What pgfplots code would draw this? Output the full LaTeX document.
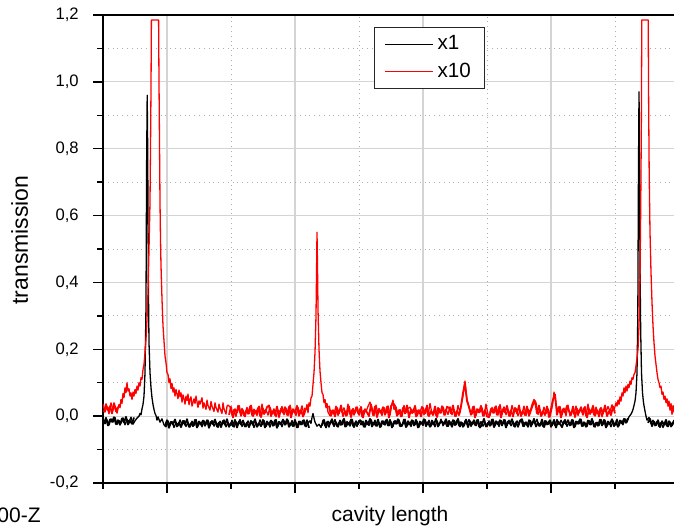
\documentclass[border=0pt]{standalone}
\usepackage{fontspec}
\setmainfont{Liberation Sans}
\usepackage{pgfplots}
\pgfplotsset{compat=1.18}
\definecolor{majgrid}{RGB}{212,212,212}
\definecolor{mingrid}{RGB}{175,175,175}

\begin{document}
\begin{tikzpicture}
\begin{axis}[
    scale only axis,
    width=288pt, height=234pt,
    xmin=103, xmax=679, ymin=-0.2, ymax=1.2,
    xtick={167,295,423,551,679},
    minor xtick={103,231,359,487,615},
    xticklabels={},
    ytick={-0.2,0,0.2,0.4,0.6,0.8,1.0,1.2},
    minor ytick={-0.1,0.1,0.3,0.5,0.7,0.9,1.1},
    xtick pos=bottom, ytick pos=left,
    tick align=outside,
    major tick length=5pt, minor tick length=2.8pt,
    every tick/.style={black, line width=0.7pt},
    axis line style={line width=0.8pt},
    grid=both,
    major grid style={majgrid, line width=0.6pt},
    minor grid style={mingrid, dotted, line width=0.4pt},
    yticklabel style={font=\fontsize{8.3}{10}\selectfont, inner sep=0pt, anchor=east, xshift=-7pt,
        /pgf/number format/.cd, fixed, fixed zerofill, precision=1, use comma, assume math mode=true},
    legend style={at={(rel axis cs:0.4705,0.9744)}, anchor=north west,
        draw=black!85, line width=0.6pt, fill=white,
        font=\fontsize{10.3}{12.4}\selectfont,
        inner xsep=5pt, inner ysep=2pt, row sep=1pt},
    legend cell align=left,
    legend image code/.code={\draw[#1, line width=0.5pt] (0pt,0pt) -- (24pt,0pt);},
    noise/.style={line width=0.9pt, line join=round, forget plot},
]
% x1, main trace
\addplot[black, line width=0.65pt, line join=round] coordinates {
(103,-0.006)(105,-0.023)(107,-0.011)(109,-0.027)(111,-0.008)(113,-0.018)(115,-0.004)(117,-0.025)
(119,-0.013)(121,-0.021)(123,-0.005)(125,-0.026)(127,-0.010)(129,-0.017)(131,-0.003)(133,-0.024)
(135,-0.014)(137,-0.006)(139,0.000)(140,0.008)(141,0.004)(142,0.022)(143,0.035)(144,0.060)
(145,0.130)(146,0.330)(146.6,0.750)(147.2,0.960)(147.7,0.800)(148.3,0.420)(149,0.220)(150,0.130)
(151,0.085)(152,0.055)(153,0.035)(154,0.020)(155,0.008)(156,0.002)(157,-0.012)(158,-0.002)
(160,-0.018)(162,-0.008)(164,-0.026)
(166,-0.032)(168,-0.014)(170,-0.027)(172,-0.016)(174,-0.034)(176,-0.019)(178,-0.029)(180,-0.011)
(182,-0.026)(184,-0.013)(186,-0.031)(188,-0.020)(190,-0.033)(192,-0.015)(194,-0.028)(196,-0.010)
(198,-0.030)(200,-0.018)(202,-0.032)(204,-0.014)(206,-0.024)(208,-0.012)(210,-0.029)(212,-0.013)
(214,-0.030)(216,-0.018)(218,-0.034)(220,-0.015)(222,-0.025)(224,-0.011)(226,-0.032)(228,-0.020)
(230,-0.028)(232,-0.012)(234,-0.033)(236,-0.017)(238,-0.024)(240,-0.010)(242,-0.031)(244,-0.021)
(246,-0.032)(248,-0.014)(250,-0.027)(252,-0.016)(254,-0.034)(256,-0.019)(258,-0.029)(260,-0.011)
(262,-0.026)(264,-0.013)(266,-0.031)(268,-0.020)(270,-0.033)(272,-0.015)(274,-0.028)(276,-0.010)
(278,-0.030)(280,-0.018)(282,-0.032)(284,-0.014)(286,-0.024)(288,-0.012)(290,-0.029)(292,-0.013)
(294,-0.030)(296,-0.018)(298,-0.034)(300,-0.015)(302,-0.025)(304,-0.011)(306,-0.032)(308,-0.020)
(310,-0.014)(311,-0.022)(312,-0.004)(313,0.008)(314,-0.006)(315,-0.018)(317,-0.030)(319,-0.024)
(321,-0.034)
(323,-0.012)(325,-0.029)(327,-0.017)(329,-0.033)(331,-0.014)(333,-0.024)(335,-0.010)(337,-0.031)
(339,-0.019)(341,-0.027)(343,-0.011)(345,-0.032)(347,-0.016)(349,-0.023)(351,-0.009)(353,-0.030)
(355,-0.020)(357,-0.031)(359,-0.013)(361,-0.026)(363,-0.015)(365,-0.033)(367,-0.018)(369,-0.028)
(371,-0.010)(373,-0.025)(375,-0.012)(377,-0.030)(379,-0.019)(381,-0.032)(383,-0.014)(385,-0.027)
(387,-0.009)(389,-0.029)(391,-0.017)(393,-0.031)(395,-0.013)(397,-0.023)(399,-0.011)(401,-0.028)
(403,-0.023)(405,-0.009)(407,-0.030)(409,-0.020)(411,-0.031)(413,-0.013)(415,-0.026)(417,-0.015)
(419,-0.033)(421,-0.018)(423,-0.028)(425,-0.010)(427,-0.025)(429,-0.012)(431,-0.030)(433,-0.019)
(435,-0.032)(437,-0.014)(439,-0.027)(441,-0.009)(443,-0.029)(445,-0.017)(447,-0.031)(449,-0.013)
(451,-0.023)(453,-0.011)(455,-0.028)(457,-0.012)(459,-0.029)(461,-0.017)(463,-0.033)(465,-0.014)
(467,-0.024)(469,-0.010)(471,-0.031)(473,-0.019)(475,-0.027)(477,-0.011)(479,-0.032)(481,-0.016)
(483,-0.030)(485,-0.019)(487,-0.032)(489,-0.014)(491,-0.027)(493,-0.009)(495,-0.029)(497,-0.017)
(499,-0.031)(501,-0.013)(503,-0.023)(505,-0.011)(507,-0.028)(509,-0.012)(511,-0.029)(513,-0.017)
(515,-0.033)(517,-0.014)(519,-0.024)(521,-0.010)(523,-0.031)(525,-0.019)(527,-0.027)(529,-0.011)
(531,-0.032)(533,-0.016)(535,-0.023)(537,-0.009)(539,-0.030)(541,-0.020)(543,-0.031)(545,-0.013)
(547,-0.026)(549,-0.015)(551,-0.033)(553,-0.018)(555,-0.028)(557,-0.010)(559,-0.025)(561,-0.012)
(563,-0.024)(565,-0.010)(567,-0.031)(569,-0.019)(571,-0.027)(573,-0.011)(575,-0.032)(577,-0.016)
(579,-0.023)(581,-0.009)(583,-0.030)(585,-0.020)(587,-0.031)(589,-0.013)(591,-0.026)(593,-0.015)
(595,-0.033)(597,-0.018)(599,-0.028)(601,-0.010)(603,-0.025)(605,-0.012)(607,-0.030)(609,-0.019)
(611,-0.032)(613,-0.014)(615,-0.027)(617,-0.009)(619,-0.029)(621,-0.014)(623,-0.026)(625,-0.008)
(627,-0.018)(629,-0.002)(631,0.006)(632,0.012)(633,0.020)(634,0.032)(635,0.045)(636,0.070)
(637,0.130)(637.8,0.300)(638.4,0.700)(639,0.970)(639.5,0.800)(640,0.450)(640.7,0.250)(641.5,0.130)
(642.5,0.070)(643.5,0.040)(645,0.015)(646,0.000)(647,-0.012)(649,-0.004)(651,-0.022)(653,-0.012)
(655,-0.029)(657,-0.016)(659,-0.031)(661,-0.019)(663,-0.034)(665,-0.020)(667,-0.030)(669,-0.014)
(671,-0.032)(673,-0.018)(675,-0.028)(677,-0.015)(679,-0.025)
};
\addlegendentry{x1}
% x1, interleaved baseline samples
\addplot[black, noise] coordinates {
(104,-0.022)(106,-0.005)(108,-0.028)(110,-0.010)(112,-0.017)(114,-0.003)(116,-0.024)(118,-0.012)
(120,-0.026)(122,-0.007)(124,-0.019)(126,-0.002)(128,-0.025)(130,-0.014)(132,-0.023)(134,-0.004)
};
\addplot[black, noise] coordinates {
(165,-0.029)(167,-0.012)(169,-0.035)(171,-0.017)(173,-0.024)(175,-0.010)(177,-0.031)(179,-0.019)
(181,-0.033)(183,-0.014)(185,-0.026)(187,-0.009)(189,-0.032)(191,-0.021)(193,-0.030)(195,-0.011)
(197,-0.034)(199,-0.016)(201,-0.025)(203,-0.013)(205,-0.029)(207,-0.012)(209,-0.035)(211,-0.017)
(213,-0.024)(215,-0.010)(217,-0.031)(219,-0.019)(221,-0.033)(223,-0.014)(225,-0.026)(227,-0.009)
(229,-0.032)(231,-0.021)(233,-0.030)(235,-0.011)(237,-0.034)(239,-0.016)(241,-0.025)(243,-0.013)
(245,-0.031)(247,-0.019)(249,-0.033)(251,-0.014)(253,-0.026)(255,-0.009)(257,-0.032)(259,-0.021)
(261,-0.030)(263,-0.011)(265,-0.034)(267,-0.016)(269,-0.025)(271,-0.013)(273,-0.029)(275,-0.012)
(277,-0.035)(279,-0.017)(281,-0.024)(283,-0.010)(285,-0.026)(287,-0.009)(289,-0.032)(291,-0.021)
(293,-0.030)(295,-0.011)(297,-0.034)(299,-0.016)(301,-0.025)(303,-0.013)(305,-0.029)(307,-0.012)
(309,-0.035)
};
\addplot[black, noise] coordinates {
(322,-0.028)(324,-0.011)(326,-0.034)(328,-0.016)(330,-0.023)(332,-0.009)(334,-0.030)(336,-0.018)
(338,-0.032)(340,-0.013)(342,-0.025)(344,-0.008)(346,-0.031)(348,-0.020)(350,-0.029)(352,-0.010)
(354,-0.033)(356,-0.015)(358,-0.024)(360,-0.012)(362,-0.018)(364,-0.032)(366,-0.013)(368,-0.025)
(370,-0.008)(372,-0.031)(374,-0.020)(376,-0.029)(378,-0.010)(380,-0.033)(382,-0.015)(384,-0.024)
(386,-0.012)(388,-0.028)(390,-0.011)(392,-0.034)(394,-0.016)(396,-0.023)(398,-0.009)(400,-0.030)
(402,-0.029)(404,-0.010)(406,-0.033)(408,-0.015)(410,-0.024)(412,-0.012)(414,-0.028)(416,-0.011)
(418,-0.034)(420,-0.016)(422,-0.023)(424,-0.009)(426,-0.030)(428,-0.018)(430,-0.032)(432,-0.013)
(434,-0.025)(436,-0.008)(438,-0.031)(440,-0.020)(442,-0.016)(444,-0.023)(446,-0.009)(448,-0.030)
(450,-0.018)(452,-0.032)(454,-0.013)(456,-0.025)(458,-0.008)(460,-0.031)(462,-0.020)(464,-0.029)
(466,-0.010)(468,-0.033)(470,-0.015)(472,-0.024)(474,-0.012)(476,-0.028)(478,-0.011)(480,-0.034)
(482,-0.025)(484,-0.008)(486,-0.031)(488,-0.020)(490,-0.029)(492,-0.010)(494,-0.033)(496,-0.015)
(498,-0.024)(500,-0.012)(502,-0.028)(504,-0.011)(506,-0.034)(508,-0.016)(510,-0.023)(512,-0.009)
(514,-0.030)(516,-0.018)(518,-0.032)(520,-0.013)(522,-0.009)(524,-0.030)(526,-0.018)(528,-0.032)
(530,-0.013)(532,-0.025)(534,-0.008)(536,-0.031)(538,-0.020)(540,-0.029)(542,-0.010)(544,-0.033)
(546,-0.015)(548,-0.024)(550,-0.012)(552,-0.028)(554,-0.011)(556,-0.034)(558,-0.016)(560,-0.023)
(562,-0.033)(564,-0.015)(566,-0.024)(568,-0.012)(570,-0.028)(572,-0.011)(574,-0.034)(576,-0.016)
(578,-0.023)(580,-0.009)(582,-0.030)(584,-0.018)(586,-0.032)(588,-0.013)(590,-0.025)(592,-0.008)
(594,-0.031)(596,-0.020)(598,-0.029)(600,-0.010)(602,-0.028)(604,-0.011)(606,-0.034)(608,-0.016)
(610,-0.023)(612,-0.009)(614,-0.030)(616,-0.018)(618,-0.032)(620,-0.013)(622,-0.022)(624,-0.008)
(626,-0.020)(628,-0.006)
};
\addplot[black, noise] coordinates {
(648,-0.020)(650,-0.008)(652,-0.030)(654,-0.016)(656,-0.027)(658,-0.012)(660,-0.033)(662,-0.015)
(664,-0.026)(666,-0.011)(668,-0.031)(670,-0.018)(672,-0.028)(674,-0.013)(676,-0.030)(678,-0.017)
};
% x10, main trace
\addplot[red, line width=0.65pt, line join=round] coordinates {
(103,0.036)(105,0.012)(107,0.028)(109,0.007)(111,0.040)(113,0.018)(115,0.031)(117,0.009)
(119,0.035)(120,0.025)(121,0.050)(122,0.038)(123,0.068)(124,0.055)(125,0.085)(126,0.070)
(127,0.100)(128,0.075)(129,0.082)(130,0.060)(131,0.070)(132,0.050)(133,0.072)(134,0.060)
(135,0.080)(136,0.068)(137,0.090)(138,0.078)(139,0.100)(140,0.090)(141,0.115)(142,0.110)
(143,0.140)(144,0.155)(145,0.190)(146,0.230)(147,0.290)(148,0.370)(149,0.500)(150,0.640)
(150.5,0.800)(151,0.980)(151.4,1.185)(158.6,1.185)(159,1.000)(159.5,0.820)(160,0.640)(160.5,0.530)
(161,0.450)(162,0.350)(163,0.270)(164,0.225)(165,0.180)(166,0.160)(167,0.130)(168,0.125)
(169,0.100)(170,0.112)(171,0.082)(172,0.098)(173,0.072)(174,0.085)(175,0.060)(176,0.080)
(177,0.066)(178,0.052)(179,0.078)(180,0.058)(181,0.070)(182,0.042)(183,0.064)(184,0.052)
(185,0.036)(186,0.060)(187,0.047)(188,0.066)(189,0.034)(190,0.050)(191,0.058)(192,0.030)
(194,0.052)(195,0.038)(196,0.060)(198,0.026)(199,0.046)(200,0.036)(202,0.055)(203,0.024)
(204,0.040)(206,0.020)(207,0.048)(208,0.032)(210,0.018)(211,0.044)(212,0.030)(214,0.014)
(215,0.040)(216,0.026)(218,0.012)(219,0.036)(220,0.024)(222,0.008)(223,0.040)(224,0.022)
(226,0.006)(227,0.030)(228,0.033)
(230,0.028)(232,0.004)(234,0.020)(236,-0.001)(238,0.032)(240,0.010)(242,0.023)(244,0.001)
(246,0.017)(248,0.006)(250,0.030)(252,0.002)(254,0.021)(256,0.012)(258,0.025)(260,0.000)
(262,0.036)(264,0.005)(266,0.019)(268,0.003)(270,0.027)(272,0.008)(274,0.022)(276,-0.002)
(278,0.018)(280,0.013)(282,0.029)(284,0.004)(286,0.024)(288,0.001)(290,0.033)(292,0.007)
(294,0.016)(296,0.002)(298,0.026)(300,0.009)(302,0.031)(304,0.003)(306,0.020)
(307,0.035)(308,0.010)(309,0.040)(310,0.030)(311,0.055)(312,0.060)(313,0.095)(314,0.130)
(315,0.190)(316,0.300)(316.5,0.420)(317,0.550)(317.5,0.450)(318,0.320)(319,0.200)(320,0.135)
(321,0.100)(322,0.070)(323,0.065)(324,0.040)(325,0.050)(326,0.025)(327,0.038)(328,0.012)
(330,0.001)(332,0.017)(334,0.006)(336,0.030)(338,0.002)(340,0.021)(342,0.012)(344,0.025)
(346,0.000)(348,0.036)(350,0.005)(352,0.019)(354,0.003)(356,0.027)(358,0.008)(360,0.022)
(362,-0.002)(364,0.018)(366,0.013)(368,0.029)(370,0.042)(372,0.024)(374,0.001)(376,0.033)
(378,0.007)(380,0.016)(382,0.002)(384,0.026)(386,0.009)(388,0.031)(390,0.003)(392,0.038)
(393,0.048)(394,0.020)(396,0.028)(398,0.004)(400,0.020)(402,-0.001)(404,0.032)(406,0.010)
(408,0.023)(410,0.027)(412,0.008)(414,0.022)(416,-0.002)(418,0.018)(420,0.013)(422,0.029)
(424,0.004)(426,0.024)(428,0.001)(430,0.038)(432,0.007)(434,0.016)(436,0.002)(438,0.026)
(440,0.009)(442,0.031)(444,0.003)(446,0.020)(448,0.005)(450,0.028)(452,0.004)(454,0.020)
(456,-0.001)(458,0.032)(460,0.010)(461,0.030)(462,0.045)(463,0.060)(464,0.090)(465,0.105)
(466,0.075)(467,0.050)(468,0.040)(470,0.017)(472,0.006)(474,0.030)(476,0.002)(478,0.021)
(480,0.012)(482,0.025)(484,0.000)(486,0.036)(488,0.005)(490,0.002)(492,0.026)(494,0.009)
(496,0.031)(498,0.003)(500,0.035)(502,0.005)(504,0.028)(506,0.004)(508,0.020)(510,-0.001)
(512,0.032)(514,0.010)(516,0.023)(518,0.001)(520,0.017)(522,0.006)(524,0.030)(526,0.002)
(528,0.021)(530,0.012)(532,0.035)(534,0.050)(536,0.040)(538,0.005)(540,0.019)(542,0.003)
(544,0.027)(546,0.008)(548,0.022)(550,-0.002)(552,0.025)(553,0.045)(554,0.072)(555,0.060)
(556,0.035)(558,0.013)(560,0.029)(562,0.004)(564,0.024)(566,0.001)(568,0.033)(570,0.001)
(572,0.017)(574,0.006)(576,0.030)(578,0.002)(580,0.021)(582,0.012)(584,0.025)(586,0.000)
(588,0.036)(590,0.005)(592,0.019)(594,0.003)(596,0.027)(598,0.008)(600,0.022)(602,-0.002)
(604,0.018)(606,0.013)(608,0.029)(610,0.014)(612,0.034)(614,0.018)(616,0.040)
(617,0.030)(618,0.048)(619,0.035)(620,0.058)(621,0.045)(622,0.070)(623,0.060)(624,0.085)
(625,0.070)(626,0.090)(627,0.075)(628,0.095)(629,0.085)(630,0.105)(631,0.095)(632,0.115)
(633,0.110)(634,0.125)(635,0.130)(636,0.150)(637,0.175)(638,0.200)(639,0.270)(640,0.420)
(640.7,0.620)(641.3,0.850)(641.8,1.185)(648.2,1.185)(648.6,0.950)(649.2,0.720)(650,0.550)(651,0.430)
(652,0.340)(653,0.270)(654,0.220)(655,0.180)(656,0.155)(657,0.130)(658,0.110)(659,0.100)
(660,0.085)(661,0.090)(662,0.065)(663,0.072)(664,0.050)(665,0.060)(666,0.040)(667,0.052)
(668,0.030)(669,0.045)(670,0.018)(671,0.038)(672,0.005)(673,0.032)(674,0.015)(676,0.035)
(678,0.010)(679,0.030)
};
\addlegendentry{x10}
% x10, interleaved baseline samples
\addplot[red, noise] coordinates {
(104,0.012)(106,0.036)(108,0.018)(110,0.030)(112,0.008)(114,0.039)(116,0.014)(118,0.028)
};
\addplot[red, noise] coordinates {
(229,0.004)(231,0.028)(233,-0.004)(235,0.021)(237,0.011)(239,0.031)(241,0.001)(243,0.018)
(245,-0.001)(247,0.025)(249,0.008)(251,0.032)(253,0.000)(255,0.015)(257,0.003)(259,0.029)
(261,-0.003)(263,0.022)(265,0.010)(267,0.027)(269,0.032)(271,0.000)(273,0.015)(275,0.003)
(277,0.029)(279,-0.003)(281,0.022)(283,0.010)(285,0.027)(287,0.004)(289,0.028)(291,-0.004)
(293,0.021)(295,0.011)(297,0.031)(299,0.001)(301,0.018)(303,-0.001)(305,0.025)
};
\addplot[red, noise] coordinates {
(329,0.031)(331,0.001)(333,0.018)(335,-0.001)(337,0.025)(339,0.008)(341,0.032)(343,0.000)
(345,0.015)(347,0.003)(349,0.029)(351,-0.003)(353,0.022)(355,0.010)(357,0.027)(359,0.004)
(361,0.028)(363,-0.004)(365,0.021)(367,0.011)(369,0.000)(371,0.035)(373,0.003)(375,0.029)
(377,-0.003)(379,0.022)(381,0.010)(383,0.027)(385,0.004)(387,0.028)(389,-0.004)(391,0.030)
(393,0.040)(395,0.031)(397,0.001)(399,0.018)(401,-0.001)(403,0.025)(405,0.008)(407,0.032)
(409,-0.004)(411,0.021)(413,0.011)(415,0.031)(417,0.001)(419,0.018)(421,-0.001)(423,0.025)
(425,0.008)(427,0.032)(429,0.000)(431,0.015)(433,0.003)(435,0.029)(437,-0.003)(439,0.022)
(441,0.010)(443,0.027)(445,0.004)(447,0.028)(449,0.025)(451,0.008)(453,0.032)(455,0.000)
(457,0.015)(459,0.003)(461,0.029)(463,0.070)(465,0.095)(467,0.045)(469,0.027)(471,0.004)
(473,0.028)(475,-0.004)(477,0.021)(479,0.011)(481,0.031)(483,0.001)(485,0.018)(487,-0.001)
(489,-0.003)(491,0.022)(493,0.010)(495,0.027)(497,0.004)(499,0.028)(501,-0.004)(503,0.021)
(505,0.011)(507,0.031)(509,0.001)(511,0.018)(513,-0.001)(515,0.025)(517,0.008)(519,0.032)
(521,0.000)(523,0.015)(525,0.003)(527,0.029)(529,0.001)(531,0.018)(533,0.035)(535,0.045)
(537,0.008)(539,0.032)(541,0.000)(543,0.015)(545,0.003)(547,0.029)(549,-0.003)(551,0.022)
(553,0.050)(555,0.065)(557,0.004)(559,0.028)(561,-0.004)(563,0.021)(565,0.011)(567,0.031)
(569,0.015)(571,0.003)(573,0.029)(575,-0.003)(577,0.022)(579,0.010)(581,0.027)(583,0.004)
(585,0.028)(587,-0.004)(589,0.021)(591,0.011)(593,0.031)(595,0.001)(597,0.018)(599,-0.001)
(601,0.025)(603,0.008)(605,0.032)(607,0.000)(609,0.015)(611,0.003)(613,0.029)(615,0.008)
};
\addplot[red, noise] coordinates {
(674,0.015)(675,0.008)(677,0.032)(679,0.012)
};
\end{axis}
\node[rotate=90, anchor=base, font=\fontsize{11.5}{13}\selectfont] at (-37.5pt,121.5pt) {transmission};
\node[anchor=base, font=\fontsize{10.5}{12.6}\selectfont] at (143.5pt,-19pt) {cavity length};
\node[anchor=base east, font=\fontsize{10.5}{12.6}\selectfont, inner sep=0pt] at (-31pt,-19.5pt) {00-Z};
\pgfresetboundingbox
\useasboundingbox (-51.5pt,-21.5pt) rectangle (285.5pt,241.5pt);
\end{tikzpicture}
\end{document}
